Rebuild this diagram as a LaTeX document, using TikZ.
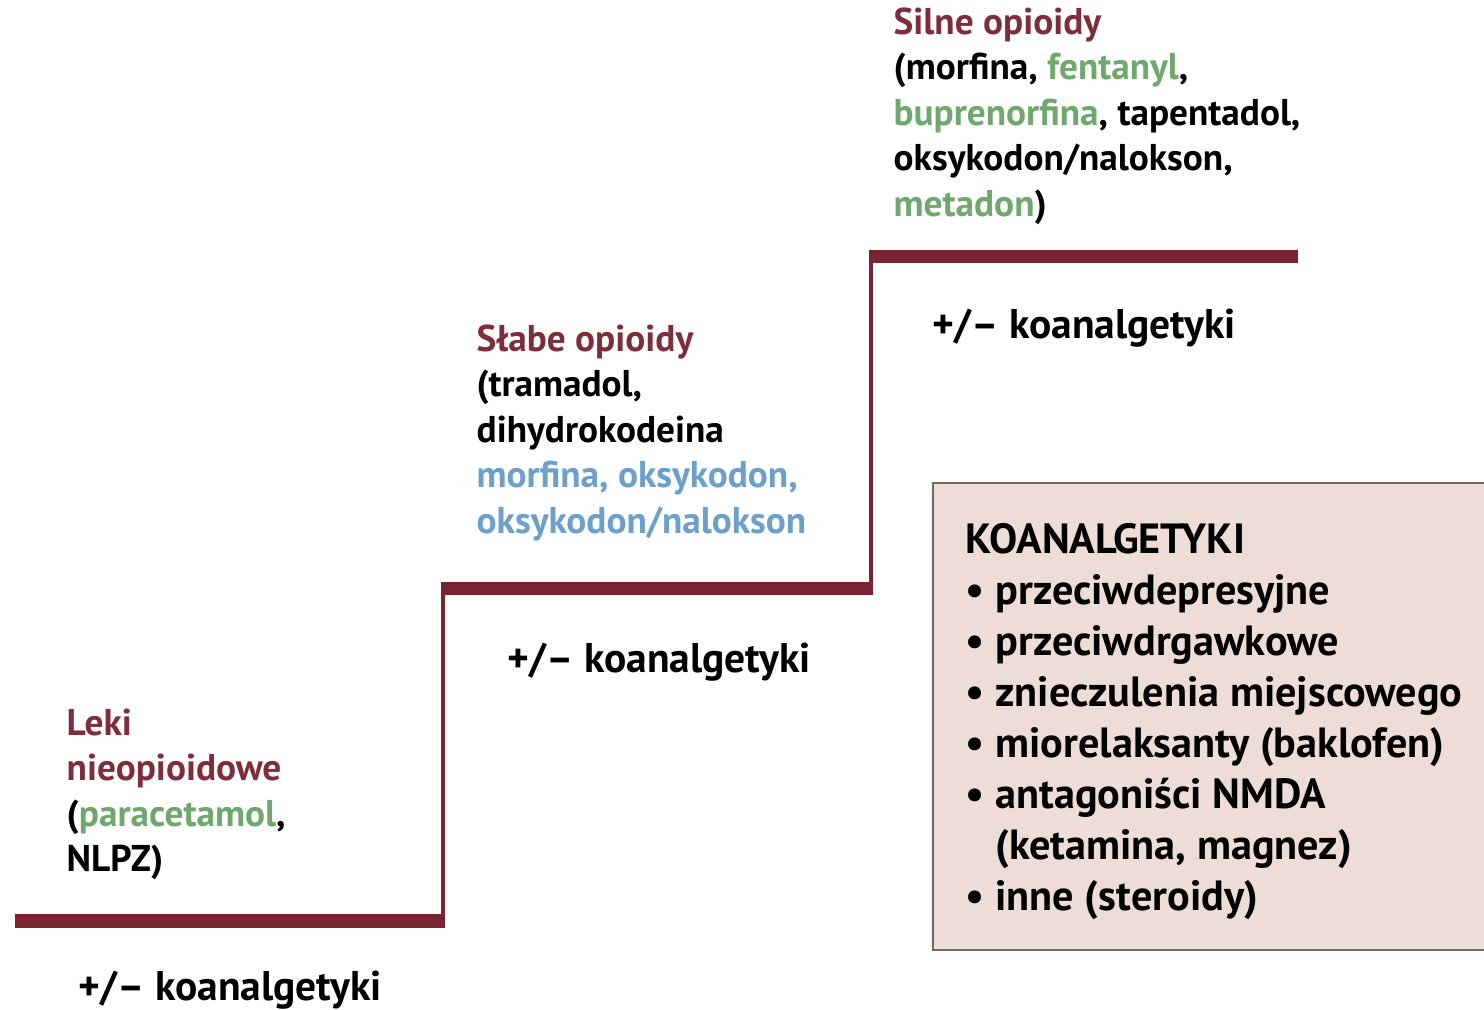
\documentclass[tikz,border=0pt]{standalone}
\usepackage{fontspec}
\setmainfont{PT Sans}
\usetikzlibrary{positioning}

\definecolor{stepred}{HTML}{7A2432}
\definecolor{headred}{HTML}{7E2D3A}
\definecolor{drugGreen}{HTML}{6EA86C}
\definecolor{drugBlue}{HTML}{6C9FC9}
\definecolor{boxfill}{HTML}{EEDDD7}
\definecolor{boxline}{HTML}{6E6A6A}

\begin{document}
\begin{tikzpicture}[
    x=0.01cm, y=-0.01cm,
    % staircase
    stepflat/.style={draw=stepred, line width=3.7pt},
    steprise/.style={draw=stepred, line width=1.4pt},
    % text blocks
    druglist/.style={anchor=north west, align=left, inner sep=0pt,
      font=\fontsize{10.6pt}{12.95pt}\selectfont\bfseries},
    coanlabel/.style={anchor=west, inner sep=0pt,
      font=\fontsize{11.8pt}{14pt}\selectfont\bfseries},
    coanbox/.style={draw=boxline, line width=0.7pt, fill=boxfill}
]
\useasboundingbox (0,0) rectangle (1484,1010);

% step corners
\coordinate (s0) at (15,921);
\coordinate (s1) at (443,921);
\coordinate (s2) at (443,589);
\coordinate (s3) at (871,589);
\coordinate (s4) at (871,257);
\coordinate (s5) at (1298,257);

% staircase
\draw[steprise] (s1) -- (s2);
\draw[steprise] (s3) -- (s4);
\draw[stepflat] (s0) -- ([xshift=0.7pt]s1);
\draw[stepflat] ([xshift=-0.7pt]s2) -- ([xshift=0.7pt]s3);
\draw[stepflat] ([xshift=-0.7pt]s4) -- (s5);

% step 1
\node[druglist] (nonopioid) at (66,708) {%
  \textcolor{headred}{Leki}\\
  \textcolor{headred}{nieopioidowe}\\
  (\textcolor{drugGreen}{paracetamol},\\
  NLPZ)};
\node[coanlabel] (coan1) at (78,990) {+/– koanalgetyki};

% step 2
\node[druglist] (weakop) at (476,324) {%
  \textcolor{headred}{Słabe opioidy}\\
  (tramadol,\\
  dihydrokodeina\\
  \textcolor{drugBlue}{morfina, oksykodon,}\\
  \textcolor{drugBlue}{oksykodon/nalokson}};
\node[coanlabel] (coan2) at (507,662) {+/– koanalgetyki};

% step 3
\node[druglist] (strongop) at (893,7) {%
  \textcolor{headred}{Silne opioidy}\\
  (morfina, \textcolor{drugGreen}{fentanyl},\\
  \textcolor{drugGreen}{buprenorfina}, tapentadol,\\
  oksykodon/nalokson,\\
  \textcolor{drugGreen}{metadon})};
\node[coanlabel] (coan3) at (932,328) {+/– koanalgetyki};

% co-analgesics box
\draw[coanbox] (1500,483) -- (933,483) -- (933,950) -- (1500,950);
\node[anchor=north west, align=left, inner sep=0pt,
      font=\fontsize{12pt}{14.5pt}\selectfont\bfseries] (coanlist) at (965,523) {%
  KOANALGETYKI\\
  • przeciwdepresyjne\\
  • przeciwdrgawkowe\\
  • znieczulenia miejscowego\\
  • miorelaksanty (baklofen)\\
  • antagoniści NMDA\\
  \phantom{• }(ketamina, magnez)\\
  • inne (steroidy)};

\end{tikzpicture}
\end{document}
